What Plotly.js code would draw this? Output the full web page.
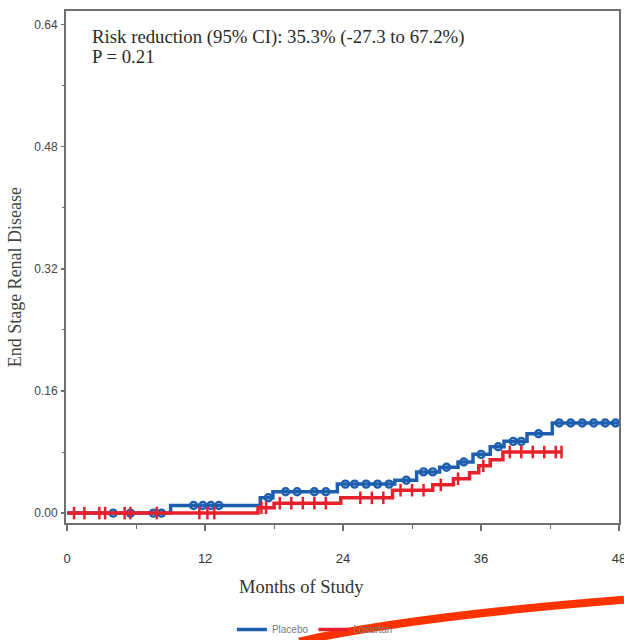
<!DOCTYPE html>
<html>
<head>
<meta charset="utf-8">
<script src="https://cdn.plot.ly/plotly-3.0.1.min.js"></script>
<style>html,body{margin:0;padding:0;background:#fff;}#chart{width:624px;height:640px;}</style>
</head>
<body>
<div id="chart"></div>
<script>
// Step curves: event times (months) and cumulative incidence after each step
const blueName = "Placebo";
const blueTimes = [0, 9.0, 16.8, 17.9, 23.5, 28.5, 30.4, 32.4, 34.0, 35.3, 36.8, 38.0, 40.0, 42.2, 48.0];
const blueVals  = [0, 0.010, 0.020, 0.028, 0.038, 0.043, 0.054, 0.060, 0.067, 0.077, 0.087, 0.094, 0.104, 0.118, 0.118];
const blueCensor = [4, 5.5, 7.5, 8.2, 11, 11.8, 12.5, 13.2, 17.5, 19, 20, 21.5, 22.5, 24.2, 25, 26, 27, 28, 29.5, 31, 31.8, 33, 34.5, 36, 37.5, 38.8, 39.5, 41, 42.8, 43.8, 44.8, 45.8, 46.8, 47.7];

const redName = "Losartan";
const redTimes = [0, 16.6, 18.0, 23.8, 28.3, 31.8, 33.6, 35.0, 35.8, 36.8, 37.9, 43.0];
const redVals  = [0, 0.007, 0.013, 0.020, 0.030, 0.037, 0.045, 0.053, 0.062, 0.070, 0.080, 0.080];
const redCensor = [0.6, 1.5, 2.8, 3.3, 5.0, 5.5, 7.8, 11.5, 12.2, 12.8, 16.9, 17.3, 18.5, 19.5, 20.5, 21.5, 22.5, 25.5, 26.5, 27.5, 29, 30, 31, 32.5, 34, 36.2, 38.5, 39.5, 40.5, 41.5, 42.5, 43.0];

const xTickStep = 12;   // months between labelled ticks
const yTickStep = 0.16; // between labelled ticks

function stepAt(t, times, vals) {
  let v = vals[0];
  for (let i = 0; i < times.length; i++) { if (times[i] <= t) v = vals[i]; }
  return v;
}

const blueCol = "#1d5fae";
const redCol = "#e8202c";

const traces = [
  {x: blueTimes, y: blueVals, mode: "lines+markers", line: {shape: "hv", color: blueCol, width: 3.5},
   marker: {size: 0.1, color: blueCol}, name: blueName, showlegend: true, hoverinfo: "skip"},
  {x: blueCensor, y: blueCensor.map(t => stepAt(t, blueTimes, blueVals)), mode: "markers",
   marker: {symbol: "circle-open", size: 7, color: blueCol, line: {width: 2.4, color: blueCol}}, showlegend: false},
  {x: redTimes, y: redVals, mode: "lines", line: {shape: "hv", color: redCol, width: 3.5},
   name: redName, showlegend: true},
  {x: redCensor, y: redCensor.map(t => stepAt(t, redTimes, redVals)), mode: "markers",
   marker: {symbol: "line-ns-open", size: 9, color: redCol, line: {width: 2.5, color: redCol}}, showlegend: false}
];

const axisCol = "#6f6f6f";
const serif = "Liberation Serif, Times New Roman, serif";
const narrow = "Liberation Sans Narrow, Arial Narrow, Liberation Sans, sans-serif";

const layout = {
  width: 624, height: 640,
  margin: {l: 66, r: 5, t: 11, b: 117, autoexpand: false},
  paper_bgcolor: "#fff", plot_bgcolor: "#fff",
  showlegend: true,
  legend: {orientation: "h", x: 0.30, y: -0.208, xanchor: "left", yanchor: "middle",
           bgcolor: "rgba(0,0,0,0)", borderwidth: 0,
           font: {family: narrow, size: 10, color: "#777"}, itemwidth: 30},
  xaxis: {range: [-0.1, 48.0], tickmode: "linear", tick0: 0, dtick: xTickStep,
          showline: true, linecolor: axisCol, linewidth: 2, mirror: true, showgrid: false, zeroline: false,
          ticks: "outside", ticklen: 6, tickcolor: axisCol, tickwidth: 1.5, ticklabelstandoff: 16,
          ticklabeloverflow: "allow",
          minor: {dtick: xTickStep / 2, tick0: 0, ticks: "outside", ticklen: 4, tickcolor: axisCol, tickwidth: 1, showgrid: false},
          tickfont: {family: narrow, size: 13, color: "#333"}},
  yaxis: {range: [-0.013, 0.658], tickmode: "linear", tick0: 0, dtick: yTickStep, tickformat: ".2f",
          showline: true, linecolor: axisCol, linewidth: 2, mirror: true, showgrid: false, zeroline: false,
          ticks: "outside", ticklen: 3, tickcolor: axisCol, tickwidth: 1.2, ticklabelstandoff: 1,
          minor: {dtick: yTickStep / 2, tick0: 0, ticks: "outside", ticklen: 2, tickcolor: axisCol, tickwidth: 1, showgrid: false},
          tickfont: {family: narrow, size: 12, color: "#444"}},
  annotations: [
    {xref: "paper", yref: "paper", x: 0.044, y: 0.95, xanchor: "left", yanchor: "middle", showarrow: false,
     text: "Risk reduction (95% CI): 35.3% (-27.3 to 67.2%)", font: {family: serif, size: 18.8, color: "#2a2a2a"}},
    {xref: "paper", yref: "paper", x: 0.044, y: 0.912, xanchor: "left", yanchor: "middle", showarrow: false,
     text: "P = 0.21", font: {family: serif, size: 18.8, color: "#2a2a2a"}},
    {xref: "paper", yref: "paper", x: 0.425, y: -0.125, xanchor: "center", yanchor: "middle", showarrow: false,
     text: "Months of Study", font: {family: serif, size: 18.5, color: "#333"}},
    {xref: "paper", yref: "paper", x: -0.092, y: 0.48, xanchor: "center", yanchor: "middle", showarrow: false,
     textangle: -90, text: "End Stage Renal Disease", font: {family: serif, size: 18, color: "#444"}}
  ],
  shapes: [
    {type: "path", xref: "paper", yref: "paper",
     path: "M 0.4216 -0.2315 Q 0.6216 -0.1830 1.0090 -0.1500",
     line: {color: "#ff3300", width: 8}, fillcolor: "rgba(0,0,0,0)"}
  ]
};

Plotly.newPlot("chart", traces, layout, {displayModeBar: false, staticPlot: true});
</script>
</body>
</html>
